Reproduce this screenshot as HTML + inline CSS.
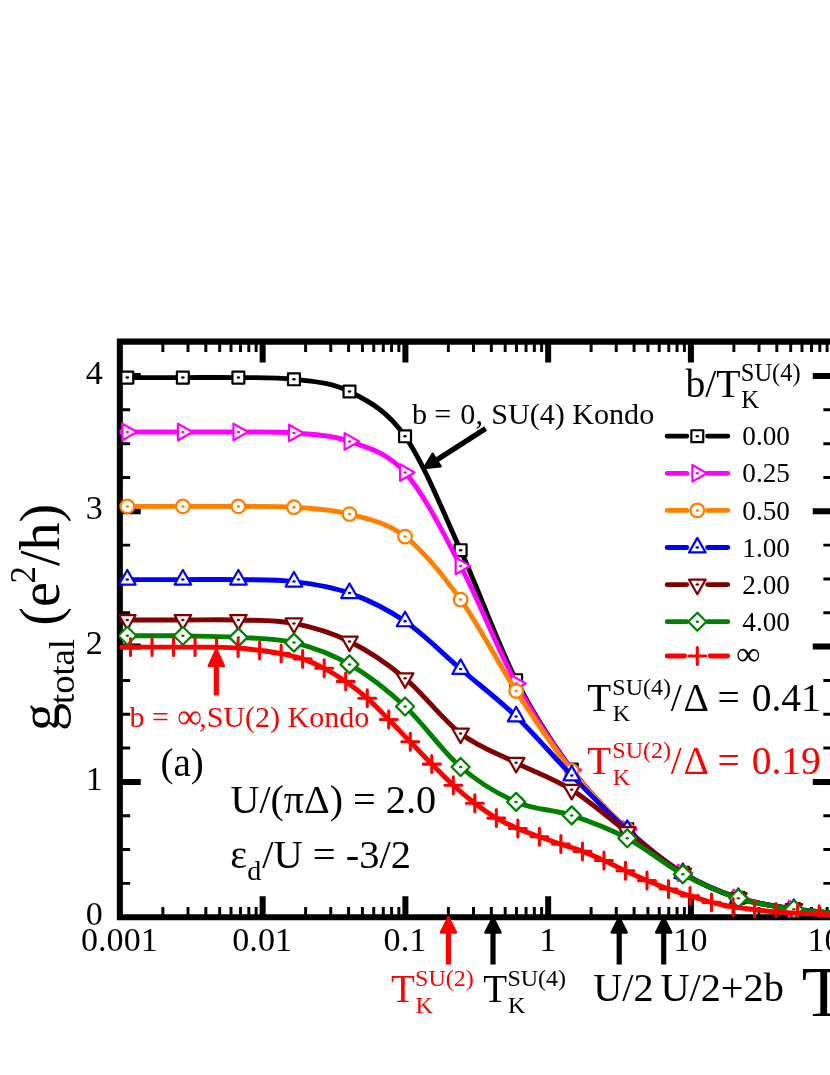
<!DOCTYPE html>
<html><head><meta charset="utf-8"><title>chart</title>
<style>
html,body{margin:0;padding:0;background:#fff;}
body{width:830px;height:1075px;overflow:hidden;}
svg{display:block;font-family:"Liberation Serif",serif;will-change:transform;}
</style></head><body>
<svg width="830" height="1075" viewBox="0 0 830 1075">
<rect width="830" height="1075" fill="#fff"/>
<g stroke="#000" fill="none"><path d="M162.87,341.60 v10.30 M162.87,917.20 v-10.30" stroke-width="2.95"/><path d="M188.01,341.60 v10.30 M188.01,917.20 v-10.30" stroke-width="2.95"/><path d="M205.84,341.60 v10.30 M205.84,917.20 v-10.30" stroke-width="2.95"/><path d="M219.68,341.60 v10.30 M219.68,917.20 v-10.30" stroke-width="2.95"/><path d="M230.98,341.60 v10.30 M230.98,917.20 v-10.30" stroke-width="2.95"/><path d="M240.54,341.60 v10.30 M240.54,917.20 v-10.30" stroke-width="2.95"/><path d="M248.82,341.60 v10.30 M248.82,917.20 v-10.30" stroke-width="2.95"/><path d="M256.12,341.60 v10.30 M256.12,917.20 v-10.30" stroke-width="2.95"/><path d="M262.65,341.60 v20.90 M262.65,917.20 v-20.90" stroke-width="6.00"/><path d="M305.62,341.60 v10.30 M305.62,917.20 v-10.30" stroke-width="2.95"/><path d="M330.76,341.60 v10.30 M330.76,917.20 v-10.30" stroke-width="2.95"/><path d="M348.59,341.60 v10.30 M348.59,917.20 v-10.30" stroke-width="2.95"/><path d="M362.43,341.60 v10.30 M362.43,917.20 v-10.30" stroke-width="2.95"/><path d="M373.73,341.60 v10.30 M373.73,917.20 v-10.30" stroke-width="2.95"/><path d="M383.29,341.60 v10.30 M383.29,917.20 v-10.30" stroke-width="2.95"/><path d="M391.57,341.60 v10.30 M391.57,917.20 v-10.30" stroke-width="2.95"/><path d="M398.87,341.60 v10.30 M398.87,917.20 v-10.30" stroke-width="2.95"/><path d="M405.40,341.60 v20.90 M405.40,917.20 v-20.90" stroke-width="6.00"/><path d="M448.37,341.60 v10.30 M448.37,917.20 v-10.30" stroke-width="2.95"/><path d="M473.51,341.60 v10.30 M473.51,917.20 v-10.30" stroke-width="2.95"/><path d="M491.34,341.60 v10.30 M491.34,917.20 v-10.30" stroke-width="2.95"/><path d="M505.18,341.60 v10.30 M505.18,917.20 v-10.30" stroke-width="2.95"/><path d="M516.48,341.60 v10.30 M516.48,917.20 v-10.30" stroke-width="2.95"/><path d="M526.04,341.60 v10.30 M526.04,917.20 v-10.30" stroke-width="2.95"/><path d="M534.32,341.60 v10.30 M534.32,917.20 v-10.30" stroke-width="2.95"/><path d="M541.62,341.60 v10.30 M541.62,917.20 v-10.30" stroke-width="2.95"/><path d="M548.15,341.60 v20.90 M548.15,917.20 v-20.90" stroke-width="6.00"/><path d="M591.12,341.60 v10.30 M591.12,917.20 v-10.30" stroke-width="2.95"/><path d="M616.26,341.60 v10.30 M616.26,917.20 v-10.30" stroke-width="2.95"/><path d="M634.09,341.60 v10.30 M634.09,917.20 v-10.30" stroke-width="2.95"/><path d="M647.93,341.60 v10.30 M647.93,917.20 v-10.30" stroke-width="2.95"/><path d="M659.23,341.60 v10.30 M659.23,917.20 v-10.30" stroke-width="2.95"/><path d="M668.79,341.60 v10.30 M668.79,917.20 v-10.30" stroke-width="2.95"/><path d="M677.07,341.60 v10.30 M677.07,917.20 v-10.30" stroke-width="2.95"/><path d="M684.37,341.60 v10.30 M684.37,917.20 v-10.30" stroke-width="2.95"/><path d="M690.90,341.60 v20.90 M690.90,917.20 v-20.90" stroke-width="6.00"/><path d="M733.87,341.60 v10.30 M733.87,917.20 v-10.30" stroke-width="2.95"/><path d="M759.01,341.60 v10.30 M759.01,917.20 v-10.30" stroke-width="2.95"/><path d="M776.84,341.60 v10.30 M776.84,917.20 v-10.30" stroke-width="2.95"/><path d="M790.68,341.60 v10.30 M790.68,917.20 v-10.30" stroke-width="2.95"/><path d="M801.98,341.60 v10.30 M801.98,917.20 v-10.30" stroke-width="2.95"/><path d="M811.54,341.60 v10.30 M811.54,917.20 v-10.30" stroke-width="2.95"/><path d="M819.82,341.60 v10.30 M819.82,917.20 v-10.30" stroke-width="2.95"/><path d="M827.12,341.60 v10.30 M827.12,917.20 v-10.30" stroke-width="2.95"/><path d="M833.65,341.60 v20.90 M833.65,917.20 v-20.90" stroke-width="6.00"/><path d="M119.85,883.38 h10.30 M833.65,883.38 h-10.30" stroke-width="2.95"/><path d="M119.85,849.55 h10.30 M833.65,849.55 h-10.30" stroke-width="2.95"/><path d="M119.85,815.73 h10.30 M833.65,815.73 h-10.30" stroke-width="2.95"/><path d="M119.85,781.90 h20.90 M833.65,781.90 h-20.90" stroke-width="6.00"/><path d="M119.85,748.08 h10.30 M833.65,748.08 h-10.30" stroke-width="2.95"/><path d="M119.85,714.25 h10.30 M833.65,714.25 h-10.30" stroke-width="2.95"/><path d="M119.85,680.42 h10.30 M833.65,680.42 h-10.30" stroke-width="2.95"/><path d="M119.85,646.60 h20.90 M833.65,646.60 h-20.90" stroke-width="6.00"/><path d="M119.85,612.78 h10.30 M833.65,612.78 h-10.30" stroke-width="2.95"/><path d="M119.85,578.95 h10.30 M833.65,578.95 h-10.30" stroke-width="2.95"/><path d="M119.85,545.12 h10.30 M833.65,545.12 h-10.30" stroke-width="2.95"/><path d="M119.85,511.30 h20.90 M833.65,511.30 h-20.90" stroke-width="6.00"/><path d="M119.85,477.48 h10.30 M833.65,477.48 h-10.30" stroke-width="2.95"/><path d="M119.85,443.65 h10.30 M833.65,443.65 h-10.30" stroke-width="2.95"/><path d="M119.85,409.82 h10.30 M833.65,409.82 h-10.30" stroke-width="2.95"/><path d="M119.85,376.00 h20.90 M833.65,376.00 h-20.90" stroke-width="6.00"/></g>
<path d="M840.00,341.60 H119.85 V917.20 H840.00" fill="none" stroke="#000" stroke-width="6.05" stroke-linejoin="miter"/>
<defs><clipPath id="pc"><rect x="119.55" y="341.60" width="800" height="576.10"/></clipPath></defs><g clip-path="url(#pc)">
<path d="M119.35,377.60 C120.67,377.60 116.72,377.60 127.30,377.60 C137.88,377.60 164.33,377.60 182.85,377.60 C201.37,377.60 219.88,377.32 238.40,377.60 C256.92,377.88 275.43,376.98 293.95,379.30 C312.47,381.62 330.98,382.00 349.50,391.50 C368.02,401.00 386.53,409.85 405.05,436.30 C423.57,462.75 442.08,509.55 460.60,550.20 C479.12,590.85 497.63,643.65 516.15,680.20 C534.67,716.75 553.18,744.65 571.70,769.50 C590.22,794.35 608.73,812.08 627.25,829.30 C645.77,846.52 664.28,861.37 682.80,872.80 C701.32,884.23 719.83,891.87 738.35,897.90 C756.87,903.93 775.38,906.22 793.90,909.00 C812.42,911.78 840.19,913.67 849.45,914.60" fill="none" stroke="#000000" stroke-width="4.90" stroke-linejoin="round"/>
<rect x="121.35" y="371.65" width="11.90" height="11.90" fill="#fff" stroke="#000000" stroke-width="2.2" stroke-linejoin="round"/><ellipse cx="127.30" cy="377.60" rx="1.75" ry="1.25" fill="#000000"/><rect x="176.90" y="371.65" width="11.90" height="11.90" fill="#fff" stroke="#000000" stroke-width="2.2" stroke-linejoin="round"/><ellipse cx="182.85" cy="377.60" rx="1.75" ry="1.25" fill="#000000"/><rect x="232.45" y="371.65" width="11.90" height="11.90" fill="#fff" stroke="#000000" stroke-width="2.2" stroke-linejoin="round"/><ellipse cx="238.40" cy="377.60" rx="1.75" ry="1.25" fill="#000000"/><rect x="288.00" y="373.35" width="11.90" height="11.90" fill="#fff" stroke="#000000" stroke-width="2.2" stroke-linejoin="round"/><ellipse cx="293.95" cy="379.30" rx="1.75" ry="1.25" fill="#000000"/><rect x="343.55" y="385.55" width="11.90" height="11.90" fill="#fff" stroke="#000000" stroke-width="2.2" stroke-linejoin="round"/><ellipse cx="349.50" cy="391.50" rx="1.75" ry="1.25" fill="#000000"/><rect x="399.10" y="430.35" width="11.90" height="11.90" fill="#fff" stroke="#000000" stroke-width="2.2" stroke-linejoin="round"/><ellipse cx="405.05" cy="436.30" rx="1.75" ry="1.25" fill="#000000"/><rect x="454.65" y="544.25" width="11.90" height="11.90" fill="#fff" stroke="#000000" stroke-width="2.2" stroke-linejoin="round"/><ellipse cx="460.60" cy="550.20" rx="1.75" ry="1.25" fill="#000000"/><rect x="510.20" y="674.25" width="11.90" height="11.90" fill="#fff" stroke="#000000" stroke-width="2.2" stroke-linejoin="round"/><ellipse cx="516.15" cy="680.20" rx="1.75" ry="1.25" fill="#000000"/><rect x="565.75" y="763.55" width="11.90" height="11.90" fill="#fff" stroke="#000000" stroke-width="2.2" stroke-linejoin="round"/><ellipse cx="571.70" cy="769.50" rx="1.75" ry="1.25" fill="#000000"/><rect x="621.30" y="823.35" width="11.90" height="11.90" fill="#fff" stroke="#000000" stroke-width="2.2" stroke-linejoin="round"/><ellipse cx="627.25" cy="829.30" rx="1.75" ry="1.25" fill="#000000"/><rect x="676.85" y="866.85" width="11.90" height="11.90" fill="#fff" stroke="#000000" stroke-width="2.2" stroke-linejoin="round"/><ellipse cx="682.80" cy="872.80" rx="1.75" ry="1.25" fill="#000000"/><rect x="732.40" y="891.95" width="11.90" height="11.90" fill="#fff" stroke="#000000" stroke-width="2.2" stroke-linejoin="round"/><ellipse cx="738.35" cy="897.90" rx="1.75" ry="1.25" fill="#000000"/><rect x="787.95" y="903.05" width="11.90" height="11.90" fill="#fff" stroke="#000000" stroke-width="2.2" stroke-linejoin="round"/><ellipse cx="793.90" cy="909.00" rx="1.75" ry="1.25" fill="#000000"/><rect x="843.50" y="908.65" width="11.90" height="11.90" fill="#fff" stroke="#000000" stroke-width="2.2" stroke-linejoin="round"/><ellipse cx="849.45" cy="914.60" rx="1.75" ry="1.25" fill="#000000"/>
<path d="M119.35,432.00 C120.67,432.00 116.72,432.00 127.30,432.00 C137.88,432.00 164.33,432.00 182.85,432.00 C201.37,432.00 219.88,431.83 238.40,432.00 C256.92,432.17 275.43,431.43 293.95,433.00 C312.47,434.57 330.98,434.82 349.50,441.40 C368.02,447.98 386.53,451.75 405.05,472.50 C423.57,493.25 442.08,530.73 460.60,565.90 C479.12,601.07 497.63,649.48 516.15,683.50 C534.67,717.52 553.18,745.68 571.70,770.00 C590.22,794.32 608.73,812.25 627.25,829.40 C645.77,846.55 664.28,861.48 682.80,872.90 C701.32,884.32 719.83,891.88 738.35,897.90 C756.87,903.92 775.38,906.22 793.90,909.00 C812.42,911.78 840.19,913.67 849.45,914.60" fill="none" stroke="#ff00ff" stroke-width="4.90" stroke-linejoin="round"/>
<polygon points="136.90,432.00 122.35,423.70 122.35,440.30" fill="#fff" stroke="#ff00ff" stroke-width="2.2" stroke-linejoin="round"/><ellipse cx="127.30" cy="432.00" rx="1.75" ry="1.25" fill="#ff00ff"/><polygon points="192.45,432.00 177.90,423.70 177.90,440.30" fill="#fff" stroke="#ff00ff" stroke-width="2.2" stroke-linejoin="round"/><ellipse cx="182.85" cy="432.00" rx="1.75" ry="1.25" fill="#ff00ff"/><polygon points="248.00,432.00 233.45,423.70 233.45,440.30" fill="#fff" stroke="#ff00ff" stroke-width="2.2" stroke-linejoin="round"/><ellipse cx="238.40" cy="432.00" rx="1.75" ry="1.25" fill="#ff00ff"/><polygon points="303.55,433.00 289.00,424.70 289.00,441.30" fill="#fff" stroke="#ff00ff" stroke-width="2.2" stroke-linejoin="round"/><ellipse cx="293.95" cy="433.00" rx="1.75" ry="1.25" fill="#ff00ff"/><polygon points="359.10,441.40 344.55,433.10 344.55,449.70" fill="#fff" stroke="#ff00ff" stroke-width="2.2" stroke-linejoin="round"/><ellipse cx="349.50" cy="441.40" rx="1.75" ry="1.25" fill="#ff00ff"/><polygon points="414.65,472.50 400.10,464.20 400.10,480.80" fill="#fff" stroke="#ff00ff" stroke-width="2.2" stroke-linejoin="round"/><ellipse cx="405.05" cy="472.50" rx="1.75" ry="1.25" fill="#ff00ff"/><polygon points="470.20,565.90 455.65,557.60 455.65,574.20" fill="#fff" stroke="#ff00ff" stroke-width="2.2" stroke-linejoin="round"/><ellipse cx="460.60" cy="565.90" rx="1.75" ry="1.25" fill="#ff00ff"/><polygon points="525.75,683.50 511.20,675.20 511.20,691.80" fill="#fff" stroke="#ff00ff" stroke-width="2.2" stroke-linejoin="round"/><ellipse cx="516.15" cy="683.50" rx="1.75" ry="1.25" fill="#ff00ff"/><polygon points="581.30,770.00 566.75,761.70 566.75,778.30" fill="#fff" stroke="#ff00ff" stroke-width="2.2" stroke-linejoin="round"/><ellipse cx="571.70" cy="770.00" rx="1.75" ry="1.25" fill="#ff00ff"/><polygon points="636.85,829.40 622.30,821.10 622.30,837.70" fill="#fff" stroke="#ff00ff" stroke-width="2.2" stroke-linejoin="round"/><ellipse cx="627.25" cy="829.40" rx="1.75" ry="1.25" fill="#ff00ff"/><polygon points="692.40,872.90 677.85,864.60 677.85,881.20" fill="#fff" stroke="#ff00ff" stroke-width="2.2" stroke-linejoin="round"/><ellipse cx="682.80" cy="872.90" rx="1.75" ry="1.25" fill="#ff00ff"/><polygon points="747.95,897.90 733.40,889.60 733.40,906.20" fill="#fff" stroke="#ff00ff" stroke-width="2.2" stroke-linejoin="round"/><ellipse cx="738.35" cy="897.90" rx="1.75" ry="1.25" fill="#ff00ff"/><polygon points="803.50,909.00 788.95,900.70 788.95,917.30" fill="#fff" stroke="#ff00ff" stroke-width="2.2" stroke-linejoin="round"/><ellipse cx="793.90" cy="909.00" rx="1.75" ry="1.25" fill="#ff00ff"/><polygon points="859.05,914.60 844.50,906.30 844.50,922.90" fill="#fff" stroke="#ff00ff" stroke-width="2.2" stroke-linejoin="round"/><ellipse cx="849.45" cy="914.60" rx="1.75" ry="1.25" fill="#ff00ff"/>
<path d="M119.35,506.40 C120.67,506.40 116.72,506.40 127.30,506.40 C137.88,506.40 164.33,506.40 182.85,506.40 C201.37,506.40 219.88,506.25 238.40,506.40 C256.92,506.55 275.43,506.02 293.95,507.30 C312.47,508.58 330.98,509.22 349.50,514.10 C368.02,518.98 386.53,522.35 405.05,536.60 C423.57,550.85 442.08,573.85 460.60,599.60 C479.12,625.35 497.63,662.53 516.15,691.10 C534.67,719.67 553.18,747.92 571.70,771.00 C590.22,794.08 608.73,812.60 627.25,829.60 C645.77,846.60 664.28,861.62 682.80,873.00 C701.32,884.38 719.83,891.90 738.35,897.90 C756.87,903.90 775.38,906.22 793.90,909.00 C812.42,911.78 840.19,913.67 849.45,914.60" fill="none" stroke="#ff8000" stroke-width="4.90" stroke-linejoin="round"/>
<circle cx="127.30" cy="506.40" r="6.8" fill="#fff" stroke="#ff8000" stroke-width="2.3"/><ellipse cx="127.30" cy="506.40" rx="1.75" ry="1.25" fill="#ff8000"/><circle cx="182.85" cy="506.40" r="6.8" fill="#fff" stroke="#ff8000" stroke-width="2.3"/><ellipse cx="182.85" cy="506.40" rx="1.75" ry="1.25" fill="#ff8000"/><circle cx="238.40" cy="506.40" r="6.8" fill="#fff" stroke="#ff8000" stroke-width="2.3"/><ellipse cx="238.40" cy="506.40" rx="1.75" ry="1.25" fill="#ff8000"/><circle cx="293.95" cy="507.30" r="6.8" fill="#fff" stroke="#ff8000" stroke-width="2.3"/><ellipse cx="293.95" cy="507.30" rx="1.75" ry="1.25" fill="#ff8000"/><circle cx="349.50" cy="514.10" r="6.8" fill="#fff" stroke="#ff8000" stroke-width="2.3"/><ellipse cx="349.50" cy="514.10" rx="1.75" ry="1.25" fill="#ff8000"/><circle cx="405.05" cy="536.60" r="6.8" fill="#fff" stroke="#ff8000" stroke-width="2.3"/><ellipse cx="405.05" cy="536.60" rx="1.75" ry="1.25" fill="#ff8000"/><circle cx="460.60" cy="599.60" r="6.8" fill="#fff" stroke="#ff8000" stroke-width="2.3"/><ellipse cx="460.60" cy="599.60" rx="1.75" ry="1.25" fill="#ff8000"/><circle cx="516.15" cy="691.10" r="6.8" fill="#fff" stroke="#ff8000" stroke-width="2.3"/><ellipse cx="516.15" cy="691.10" rx="1.75" ry="1.25" fill="#ff8000"/><circle cx="571.70" cy="771.00" r="6.8" fill="#fff" stroke="#ff8000" stroke-width="2.3"/><ellipse cx="571.70" cy="771.00" rx="1.75" ry="1.25" fill="#ff8000"/><circle cx="627.25" cy="829.60" r="6.8" fill="#fff" stroke="#ff8000" stroke-width="2.3"/><ellipse cx="627.25" cy="829.60" rx="1.75" ry="1.25" fill="#ff8000"/><circle cx="682.80" cy="873.00" r="6.8" fill="#fff" stroke="#ff8000" stroke-width="2.3"/><ellipse cx="682.80" cy="873.00" rx="1.75" ry="1.25" fill="#ff8000"/><circle cx="738.35" cy="897.90" r="6.8" fill="#fff" stroke="#ff8000" stroke-width="2.3"/><ellipse cx="738.35" cy="897.90" rx="1.75" ry="1.25" fill="#ff8000"/><circle cx="793.90" cy="909.00" r="6.8" fill="#fff" stroke="#ff8000" stroke-width="2.3"/><ellipse cx="793.90" cy="909.00" rx="1.75" ry="1.25" fill="#ff8000"/><circle cx="849.45" cy="914.60" r="6.8" fill="#fff" stroke="#ff8000" stroke-width="2.3"/><ellipse cx="849.45" cy="914.60" rx="1.75" ry="1.25" fill="#ff8000"/>
<path d="M119.35,579.60 C120.67,579.60 116.72,579.60 127.30,579.60 C137.88,579.60 164.33,579.60 182.85,579.60 C201.37,579.60 219.88,579.27 238.40,579.60 C256.92,579.93 275.43,579.35 293.95,581.60 C312.47,583.85 330.98,586.48 349.50,593.10 C368.02,599.72 386.53,608.65 405.05,621.30 C423.57,633.95 442.08,653.15 460.60,669.00 C479.12,684.85 497.63,698.67 516.15,716.40 C534.67,734.13 553.18,756.47 571.70,775.40 C590.22,794.33 608.73,813.72 627.25,830.00 C645.77,846.28 664.28,861.77 682.80,873.10 C701.32,884.43 719.83,892.02 738.35,898.00 C756.87,903.98 775.38,906.23 793.90,909.00 C812.42,911.77 840.19,913.67 849.45,914.60" fill="none" stroke="#0000ff" stroke-width="4.90" stroke-linejoin="round"/>
<polygon points="127.30,570.00 119.00,584.55 135.60,584.55" fill="#fff" stroke="#0000ff" stroke-width="2.2" stroke-linejoin="round"/><ellipse cx="127.30" cy="579.60" rx="1.75" ry="1.25" fill="#0000ff"/><polygon points="182.85,570.00 174.55,584.55 191.15,584.55" fill="#fff" stroke="#0000ff" stroke-width="2.2" stroke-linejoin="round"/><ellipse cx="182.85" cy="579.60" rx="1.75" ry="1.25" fill="#0000ff"/><polygon points="238.40,570.00 230.10,584.55 246.70,584.55" fill="#fff" stroke="#0000ff" stroke-width="2.2" stroke-linejoin="round"/><ellipse cx="238.40" cy="579.60" rx="1.75" ry="1.25" fill="#0000ff"/><polygon points="293.95,572.00 285.65,586.55 302.25,586.55" fill="#fff" stroke="#0000ff" stroke-width="2.2" stroke-linejoin="round"/><ellipse cx="293.95" cy="581.60" rx="1.75" ry="1.25" fill="#0000ff"/><polygon points="349.50,583.50 341.20,598.05 357.80,598.05" fill="#fff" stroke="#0000ff" stroke-width="2.2" stroke-linejoin="round"/><ellipse cx="349.50" cy="593.10" rx="1.75" ry="1.25" fill="#0000ff"/><polygon points="405.05,611.70 396.75,626.25 413.35,626.25" fill="#fff" stroke="#0000ff" stroke-width="2.2" stroke-linejoin="round"/><ellipse cx="405.05" cy="621.30" rx="1.75" ry="1.25" fill="#0000ff"/><polygon points="460.60,659.40 452.30,673.95 468.90,673.95" fill="#fff" stroke="#0000ff" stroke-width="2.2" stroke-linejoin="round"/><ellipse cx="460.60" cy="669.00" rx="1.75" ry="1.25" fill="#0000ff"/><polygon points="516.15,706.80 507.85,721.35 524.45,721.35" fill="#fff" stroke="#0000ff" stroke-width="2.2" stroke-linejoin="round"/><ellipse cx="516.15" cy="716.40" rx="1.75" ry="1.25" fill="#0000ff"/><polygon points="571.70,765.80 563.40,780.35 580.00,780.35" fill="#fff" stroke="#0000ff" stroke-width="2.2" stroke-linejoin="round"/><ellipse cx="571.70" cy="775.40" rx="1.75" ry="1.25" fill="#0000ff"/><polygon points="627.25,820.40 618.95,834.95 635.55,834.95" fill="#fff" stroke="#0000ff" stroke-width="2.2" stroke-linejoin="round"/><ellipse cx="627.25" cy="830.00" rx="1.75" ry="1.25" fill="#0000ff"/><polygon points="682.80,863.50 674.50,878.05 691.10,878.05" fill="#fff" stroke="#0000ff" stroke-width="2.2" stroke-linejoin="round"/><ellipse cx="682.80" cy="873.10" rx="1.75" ry="1.25" fill="#0000ff"/><polygon points="738.35,888.40 730.05,902.95 746.65,902.95" fill="#fff" stroke="#0000ff" stroke-width="2.2" stroke-linejoin="round"/><ellipse cx="738.35" cy="898.00" rx="1.75" ry="1.25" fill="#0000ff"/><polygon points="793.90,899.40 785.60,913.95 802.20,913.95" fill="#fff" stroke="#0000ff" stroke-width="2.2" stroke-linejoin="round"/><ellipse cx="793.90" cy="909.00" rx="1.75" ry="1.25" fill="#0000ff"/><polygon points="849.45,905.00 841.15,919.55 857.75,919.55" fill="#fff" stroke="#0000ff" stroke-width="2.2" stroke-linejoin="round"/><ellipse cx="849.45" cy="914.60" rx="1.75" ry="1.25" fill="#0000ff"/>
<path d="M119.35,620.00 C120.67,620.00 116.72,620.00 127.30,620.00 C137.88,620.00 164.33,620.00 182.85,620.00 C201.37,620.00 219.88,619.43 238.40,620.00 C256.92,620.57 275.43,619.82 293.95,623.40 C312.47,626.98 330.98,632.35 349.50,641.50 C368.02,650.65 386.53,662.97 405.05,678.30 C423.57,693.63 442.08,719.42 460.60,733.50 C479.12,747.58 497.63,753.42 516.15,762.80 C534.67,772.18 553.18,778.27 571.70,789.80 C590.22,801.33 608.73,818.05 627.25,832.00 C645.77,845.95 664.28,862.48 682.80,873.50 C701.32,884.52 719.83,892.17 738.35,898.10 C756.87,904.03 775.38,906.35 793.90,909.10 C812.42,911.85 840.19,913.68 849.45,914.60" fill="none" stroke="#800000" stroke-width="4.90" stroke-linejoin="round"/>
<polygon points="127.30,629.60 119.00,615.05 135.60,615.05" fill="#fff" stroke="#800000" stroke-width="2.2" stroke-linejoin="round"/><ellipse cx="127.30" cy="620.00" rx="1.75" ry="1.25" fill="#800000"/><polygon points="182.85,629.60 174.55,615.05 191.15,615.05" fill="#fff" stroke="#800000" stroke-width="2.2" stroke-linejoin="round"/><ellipse cx="182.85" cy="620.00" rx="1.75" ry="1.25" fill="#800000"/><polygon points="238.40,629.60 230.10,615.05 246.70,615.05" fill="#fff" stroke="#800000" stroke-width="2.2" stroke-linejoin="round"/><ellipse cx="238.40" cy="620.00" rx="1.75" ry="1.25" fill="#800000"/><polygon points="293.95,633.00 285.65,618.45 302.25,618.45" fill="#fff" stroke="#800000" stroke-width="2.2" stroke-linejoin="round"/><ellipse cx="293.95" cy="623.40" rx="1.75" ry="1.25" fill="#800000"/><polygon points="349.50,651.10 341.20,636.55 357.80,636.55" fill="#fff" stroke="#800000" stroke-width="2.2" stroke-linejoin="round"/><ellipse cx="349.50" cy="641.50" rx="1.75" ry="1.25" fill="#800000"/><polygon points="405.05,687.90 396.75,673.35 413.35,673.35" fill="#fff" stroke="#800000" stroke-width="2.2" stroke-linejoin="round"/><ellipse cx="405.05" cy="678.30" rx="1.75" ry="1.25" fill="#800000"/><polygon points="460.60,743.10 452.30,728.55 468.90,728.55" fill="#fff" stroke="#800000" stroke-width="2.2" stroke-linejoin="round"/><ellipse cx="460.60" cy="733.50" rx="1.75" ry="1.25" fill="#800000"/><polygon points="516.15,772.40 507.85,757.85 524.45,757.85" fill="#fff" stroke="#800000" stroke-width="2.2" stroke-linejoin="round"/><ellipse cx="516.15" cy="762.80" rx="1.75" ry="1.25" fill="#800000"/><polygon points="571.70,799.40 563.40,784.85 580.00,784.85" fill="#fff" stroke="#800000" stroke-width="2.2" stroke-linejoin="round"/><ellipse cx="571.70" cy="789.80" rx="1.75" ry="1.25" fill="#800000"/><polygon points="627.25,841.60 618.95,827.05 635.55,827.05" fill="#fff" stroke="#800000" stroke-width="2.2" stroke-linejoin="round"/><ellipse cx="627.25" cy="832.00" rx="1.75" ry="1.25" fill="#800000"/><polygon points="682.80,883.10 674.50,868.55 691.10,868.55" fill="#fff" stroke="#800000" stroke-width="2.2" stroke-linejoin="round"/><ellipse cx="682.80" cy="873.50" rx="1.75" ry="1.25" fill="#800000"/><polygon points="738.35,907.70 730.05,893.15 746.65,893.15" fill="#fff" stroke="#800000" stroke-width="2.2" stroke-linejoin="round"/><ellipse cx="738.35" cy="898.10" rx="1.75" ry="1.25" fill="#800000"/><polygon points="793.90,918.70 785.60,904.15 802.20,904.15" fill="#fff" stroke="#800000" stroke-width="2.2" stroke-linejoin="round"/><ellipse cx="793.90" cy="909.10" rx="1.75" ry="1.25" fill="#800000"/><polygon points="849.45,924.20 841.15,909.65 857.75,909.65" fill="#fff" stroke="#800000" stroke-width="2.2" stroke-linejoin="round"/><ellipse cx="849.45" cy="914.60" rx="1.75" ry="1.25" fill="#800000"/>
<path d="M119.35,635.80 C120.67,635.80 116.72,635.80 127.30,635.80 C137.88,635.80 164.33,635.53 182.85,635.80 C201.37,636.07 219.88,636.27 238.40,637.40 C256.92,638.53 275.43,638.10 293.95,642.60 C312.47,647.10 330.98,653.75 349.50,664.40 C368.02,675.05 386.53,689.40 405.05,706.50 C423.57,723.60 442.08,751.10 460.60,767.00 C479.12,782.90 497.63,793.83 516.15,801.90 C534.67,809.97 553.18,809.33 571.70,815.40 C590.22,821.47 608.73,828.50 627.25,838.30 C645.77,848.10 664.28,864.20 682.80,874.20 C701.32,884.20 719.83,892.47 738.35,898.30 C756.87,904.13 775.38,906.47 793.90,909.20 C812.42,911.93 840.19,913.78 849.45,914.70" fill="none" stroke="#008000" stroke-width="4.90" stroke-linejoin="round"/>
<polygon points="118.30,635.80 127.30,626.80 136.30,635.80 127.30,644.80" fill="#fff" stroke="#008000" stroke-width="2.2" stroke-linejoin="round"/><ellipse cx="127.30" cy="635.80" rx="1.75" ry="1.25" fill="#008000"/><polygon points="173.85,635.80 182.85,626.80 191.85,635.80 182.85,644.80" fill="#fff" stroke="#008000" stroke-width="2.2" stroke-linejoin="round"/><ellipse cx="182.85" cy="635.80" rx="1.75" ry="1.25" fill="#008000"/><polygon points="229.40,637.40 238.40,628.40 247.40,637.40 238.40,646.40" fill="#fff" stroke="#008000" stroke-width="2.2" stroke-linejoin="round"/><ellipse cx="238.40" cy="637.40" rx="1.75" ry="1.25" fill="#008000"/><polygon points="284.95,642.60 293.95,633.60 302.95,642.60 293.95,651.60" fill="#fff" stroke="#008000" stroke-width="2.2" stroke-linejoin="round"/><ellipse cx="293.95" cy="642.60" rx="1.75" ry="1.25" fill="#008000"/><polygon points="340.50,664.40 349.50,655.40 358.50,664.40 349.50,673.40" fill="#fff" stroke="#008000" stroke-width="2.2" stroke-linejoin="round"/><ellipse cx="349.50" cy="664.40" rx="1.75" ry="1.25" fill="#008000"/><polygon points="396.05,706.50 405.05,697.50 414.05,706.50 405.05,715.50" fill="#fff" stroke="#008000" stroke-width="2.2" stroke-linejoin="round"/><ellipse cx="405.05" cy="706.50" rx="1.75" ry="1.25" fill="#008000"/><polygon points="451.60,767.00 460.60,758.00 469.60,767.00 460.60,776.00" fill="#fff" stroke="#008000" stroke-width="2.2" stroke-linejoin="round"/><ellipse cx="460.60" cy="767.00" rx="1.75" ry="1.25" fill="#008000"/><polygon points="507.15,801.90 516.15,792.90 525.15,801.90 516.15,810.90" fill="#fff" stroke="#008000" stroke-width="2.2" stroke-linejoin="round"/><ellipse cx="516.15" cy="801.90" rx="1.75" ry="1.25" fill="#008000"/><polygon points="562.70,815.40 571.70,806.40 580.70,815.40 571.70,824.40" fill="#fff" stroke="#008000" stroke-width="2.2" stroke-linejoin="round"/><ellipse cx="571.70" cy="815.40" rx="1.75" ry="1.25" fill="#008000"/><polygon points="618.25,838.30 627.25,829.30 636.25,838.30 627.25,847.30" fill="#fff" stroke="#008000" stroke-width="2.2" stroke-linejoin="round"/><ellipse cx="627.25" cy="838.30" rx="1.75" ry="1.25" fill="#008000"/><polygon points="673.80,874.20 682.80,865.20 691.80,874.20 682.80,883.20" fill="#fff" stroke="#008000" stroke-width="2.2" stroke-linejoin="round"/><ellipse cx="682.80" cy="874.20" rx="1.75" ry="1.25" fill="#008000"/><polygon points="729.35,898.30 738.35,889.30 747.35,898.30 738.35,907.30" fill="#fff" stroke="#008000" stroke-width="2.2" stroke-linejoin="round"/><ellipse cx="738.35" cy="898.30" rx="1.75" ry="1.25" fill="#008000"/><polygon points="784.90,909.20 793.90,900.20 802.90,909.20 793.90,918.20" fill="#fff" stroke="#008000" stroke-width="2.2" stroke-linejoin="round"/><ellipse cx="793.90" cy="909.20" rx="1.75" ry="1.25" fill="#008000"/><polygon points="840.45,914.70 849.45,905.70 858.45,914.70 849.45,923.70" fill="#fff" stroke="#008000" stroke-width="2.2" stroke-linejoin="round"/><ellipse cx="849.45" cy="914.70" rx="1.75" ry="1.25" fill="#008000"/>
<path d="M119.35,647.10 C121.21,647.10 125.05,647.10 130.50,647.10 C135.94,647.10 144.85,647.10 152.02,647.10 C159.19,647.10 166.37,647.10 173.54,647.10 C180.71,647.10 187.89,647.07 195.06,647.10 C202.23,647.13 209.41,647.15 216.58,647.30 C223.75,647.45 230.93,647.48 238.10,648.00 C245.27,648.52 252.45,649.47 259.62,650.40 C266.79,651.33 273.97,652.18 281.14,653.60 C288.31,655.02 295.49,656.45 302.66,658.90 C309.83,661.35 317.01,664.55 324.18,668.30 C331.35,672.05 338.53,676.42 345.70,681.40 C352.87,686.38 360.05,691.85 367.22,698.20 C374.39,704.55 381.57,712.23 388.74,719.50 C395.91,726.77 403.09,734.37 410.26,741.80 C417.43,749.23 424.61,756.87 431.78,764.10 C438.95,771.33 446.13,778.67 453.30,785.20 C460.47,791.73 467.65,797.82 474.82,803.30 C481.99,808.78 489.17,813.90 496.34,818.10 C503.51,822.30 510.69,825.38 517.86,828.50 C525.03,831.62 532.21,834.20 539.38,836.80 C546.55,839.40 553.73,841.67 560.90,844.10 C568.07,846.53 575.25,848.67 582.42,851.40 C589.59,854.13 596.77,857.27 603.94,860.50 C611.11,863.73 618.29,867.45 625.46,870.80 C632.63,874.15 639.81,877.57 646.98,880.60 C654.15,883.63 661.33,886.45 668.50,889.00 C675.67,891.55 682.85,893.67 690.02,895.90 C697.19,898.13 704.37,900.57 711.54,902.40 C718.71,904.23 725.89,905.70 733.06,906.90 C740.23,908.10 747.41,908.77 754.58,909.60 C761.75,910.43 768.93,911.30 776.10,911.90 C783.27,912.50 790.45,912.80 797.62,913.20 C804.79,913.60 811.97,914.00 819.14,914.30 C826.31,914.60 837.07,914.88 840.66,915.00" fill="none" stroke="#ff0000" stroke-width="4.90" stroke-linejoin="round"/>
<path d="M122.05,647.10 H138.95 M130.50,638.65 V655.55" stroke="#ff0000" stroke-width="3.1" stroke-linecap="round" fill="none"/><path d="M143.57,647.10 H160.47 M152.02,638.65 V655.55" stroke="#ff0000" stroke-width="3.1" stroke-linecap="round" fill="none"/><path d="M165.09,647.10 H181.99 M173.54,638.65 V655.55" stroke="#ff0000" stroke-width="3.1" stroke-linecap="round" fill="none"/><path d="M186.61,647.10 H203.51 M195.06,638.65 V655.55" stroke="#ff0000" stroke-width="3.1" stroke-linecap="round" fill="none"/><path d="M208.13,647.30 H225.03 M216.58,638.85 V655.75" stroke="#ff0000" stroke-width="3.1" stroke-linecap="round" fill="none"/><path d="M229.65,648.00 H246.55 M238.10,639.55 V656.45" stroke="#ff0000" stroke-width="3.1" stroke-linecap="round" fill="none"/><path d="M251.17,650.40 H268.07 M259.62,641.95 V658.85" stroke="#ff0000" stroke-width="3.1" stroke-linecap="round" fill="none"/><path d="M272.69,653.60 H289.59 M281.14,645.15 V662.05" stroke="#ff0000" stroke-width="3.1" stroke-linecap="round" fill="none"/><path d="M294.21,658.90 H311.11 M302.66,650.45 V667.35" stroke="#ff0000" stroke-width="3.1" stroke-linecap="round" fill="none"/><path d="M315.73,668.30 H332.63 M324.18,659.85 V676.75" stroke="#ff0000" stroke-width="3.1" stroke-linecap="round" fill="none"/><path d="M337.25,681.40 H354.15 M345.70,672.95 V689.85" stroke="#ff0000" stroke-width="3.1" stroke-linecap="round" fill="none"/><path d="M358.77,698.20 H375.67 M367.22,689.75 V706.65" stroke="#ff0000" stroke-width="3.1" stroke-linecap="round" fill="none"/><path d="M380.29,719.50 H397.19 M388.74,711.05 V727.95" stroke="#ff0000" stroke-width="3.1" stroke-linecap="round" fill="none"/><path d="M401.81,741.80 H418.71 M410.26,733.35 V750.25" stroke="#ff0000" stroke-width="3.1" stroke-linecap="round" fill="none"/><path d="M423.33,764.10 H440.23 M431.78,755.65 V772.55" stroke="#ff0000" stroke-width="3.1" stroke-linecap="round" fill="none"/><path d="M444.85,785.20 H461.75 M453.30,776.75 V793.65" stroke="#ff0000" stroke-width="3.1" stroke-linecap="round" fill="none"/><path d="M466.37,803.30 H483.27 M474.82,794.85 V811.75" stroke="#ff0000" stroke-width="3.1" stroke-linecap="round" fill="none"/><path d="M487.89,818.10 H504.79 M496.34,809.65 V826.55" stroke="#ff0000" stroke-width="3.1" stroke-linecap="round" fill="none"/><path d="M509.41,828.50 H526.31 M517.86,820.05 V836.95" stroke="#ff0000" stroke-width="3.1" stroke-linecap="round" fill="none"/><path d="M530.93,836.80 H547.83 M539.38,828.35 V845.25" stroke="#ff0000" stroke-width="3.1" stroke-linecap="round" fill="none"/><path d="M552.45,844.10 H569.35 M560.90,835.65 V852.55" stroke="#ff0000" stroke-width="3.1" stroke-linecap="round" fill="none"/><path d="M573.97,851.40 H590.87 M582.42,842.95 V859.85" stroke="#ff0000" stroke-width="3.1" stroke-linecap="round" fill="none"/><path d="M595.49,860.50 H612.39 M603.94,852.05 V868.95" stroke="#ff0000" stroke-width="3.1" stroke-linecap="round" fill="none"/><path d="M617.01,870.80 H633.91 M625.46,862.35 V879.25" stroke="#ff0000" stroke-width="3.1" stroke-linecap="round" fill="none"/><path d="M638.53,880.60 H655.43 M646.98,872.15 V889.05" stroke="#ff0000" stroke-width="3.1" stroke-linecap="round" fill="none"/><path d="M660.05,889.00 H676.95 M668.50,880.55 V897.45" stroke="#ff0000" stroke-width="3.1" stroke-linecap="round" fill="none"/><path d="M681.57,895.90 H698.47 M690.02,887.45 V904.35" stroke="#ff0000" stroke-width="3.1" stroke-linecap="round" fill="none"/><path d="M703.09,902.40 H719.99 M711.54,893.95 V910.85" stroke="#ff0000" stroke-width="3.1" stroke-linecap="round" fill="none"/><path d="M724.61,906.90 H741.51 M733.06,898.45 V915.35" stroke="#ff0000" stroke-width="3.1" stroke-linecap="round" fill="none"/><path d="M746.13,909.60 H763.03 M754.58,901.15 V918.05" stroke="#ff0000" stroke-width="3.1" stroke-linecap="round" fill="none"/><path d="M767.65,911.90 H784.55 M776.10,903.45 V920.35" stroke="#ff0000" stroke-width="3.1" stroke-linecap="round" fill="none"/><path d="M789.17,913.20 H806.07 M797.62,904.75 V921.65" stroke="#ff0000" stroke-width="3.1" stroke-linecap="round" fill="none"/><path d="M810.69,914.30 H827.59 M819.14,905.85 V922.75" stroke="#ff0000" stroke-width="3.1" stroke-linecap="round" fill="none"/><path d="M832.21,915.00 H849.11 M840.66,906.55 V923.45" stroke="#ff0000" stroke-width="3.1" stroke-linecap="round" fill="none"/>
</g>
<text x="102.80" y="924.80" font-size="34.10" fill="#000" text-anchor="end">0</text>
<text x="102.80" y="789.50" font-size="34.10" fill="#000" text-anchor="end">1</text>
<text x="102.80" y="654.20" font-size="34.10" fill="#000" text-anchor="end">2</text>
<text x="102.80" y="518.90" font-size="34.10" fill="#000" text-anchor="end">3</text>
<text x="102.80" y="383.60" font-size="34.10" fill="#000" text-anchor="end">4</text>
<text x="119.40" y="950.60" font-size="34.10" fill="#000" text-anchor="middle">0.001</text>
<text x="262.15" y="950.60" font-size="34.10" fill="#000" text-anchor="middle">0.01</text>
<text x="404.90" y="950.60" font-size="34.10" fill="#000" text-anchor="middle">0.1</text>
<text x="547.65" y="950.60" font-size="34.10" fill="#000" text-anchor="middle">1</text>
<text x="690.40" y="950.60" font-size="34.10" fill="#000" text-anchor="middle">10</text>
<text x="833.15" y="950.60" font-size="34.10" fill="#000" text-anchor="middle">100</text>
<g transform="translate(59.2,731) rotate(-90)">
<text x="0.00" y="0.00" font-size="56.00" fill="#000">g</text>
<text x="27.00" y="14.30" font-size="36.60" fill="#000">total</text>
<text x="105.30" y="0.00" font-size="56.00" fill="#000">(e</text>
<text x="147.50" y="-24.00" font-size="35.00" fill="#000">2</text>
<text x="165.00" y="0.00" font-size="56.00" fill="#000">/h)</text>
</g>
<text x="685.50" y="396.80" font-size="39.70" fill="#000">b/T</text>
<text x="740.80" y="381.00" font-size="24.50" fill="#000">SU(4)</text>
<text x="741.20" y="408.20" font-size="24.80" fill="#000">K</text>
<path d="M667.1,436.20 H686.8 M707.6,436.20 H727.8" stroke="#000000" stroke-width="4.8" stroke-linecap="round" fill="none"/>
<rect x="691.35" y="430.25" width="11.90" height="11.90" fill="#fff" stroke="#000000" stroke-width="2.2" stroke-linejoin="round"/><ellipse cx="697.30" cy="436.20" rx="1.75" ry="1.25" fill="#000000"/>
<text x="742.30" y="445.30" font-size="27.20" fill="#000">0.00</text>
<path d="M667.1,473.30 H686.8 M707.6,473.30 H727.8" stroke="#ff00ff" stroke-width="4.8" stroke-linecap="round" fill="none"/>
<polygon points="706.90,473.30 692.35,465.00 692.35,481.60" fill="#fff" stroke="#ff00ff" stroke-width="2.2" stroke-linejoin="round"/><ellipse cx="697.30" cy="473.30" rx="1.75" ry="1.25" fill="#ff00ff"/>
<text x="742.30" y="482.40" font-size="27.20" fill="#000">0.25</text>
<path d="M667.1,510.40 H686.8 M707.6,510.40 H727.8" stroke="#ff8000" stroke-width="4.8" stroke-linecap="round" fill="none"/>
<circle cx="697.30" cy="510.40" r="6.8" fill="#fff" stroke="#ff8000" stroke-width="2.3"/><ellipse cx="697.30" cy="510.40" rx="1.75" ry="1.25" fill="#ff8000"/>
<text x="742.30" y="519.50" font-size="27.20" fill="#000">0.50</text>
<path d="M667.1,547.50 H686.8 M707.6,547.50 H727.8" stroke="#0000ff" stroke-width="4.8" stroke-linecap="round" fill="none"/>
<polygon points="697.30,537.90 689.00,552.45 705.60,552.45" fill="#fff" stroke="#0000ff" stroke-width="2.2" stroke-linejoin="round"/><ellipse cx="697.30" cy="547.50" rx="1.75" ry="1.25" fill="#0000ff"/>
<text x="742.30" y="556.60" font-size="27.20" fill="#000">1.00</text>
<path d="M667.1,584.60 H686.8 M707.6,584.60 H727.8" stroke="#800000" stroke-width="4.8" stroke-linecap="round" fill="none"/>
<polygon points="697.30,594.20 689.00,579.65 705.60,579.65" fill="#fff" stroke="#800000" stroke-width="2.2" stroke-linejoin="round"/><ellipse cx="697.30" cy="584.60" rx="1.75" ry="1.25" fill="#800000"/>
<text x="742.30" y="593.70" font-size="27.20" fill="#000">2.00</text>
<path d="M667.1,621.70 H686.8 M707.6,621.70 H727.8" stroke="#008000" stroke-width="4.8" stroke-linecap="round" fill="none"/>
<polygon points="688.30,621.70 697.30,612.70 706.30,621.70 697.30,630.70" fill="#fff" stroke="#008000" stroke-width="2.2" stroke-linejoin="round"/><ellipse cx="697.30" cy="621.70" rx="1.75" ry="1.25" fill="#008000"/>
<text x="742.30" y="630.80" font-size="27.20" fill="#000">4.00</text>
<path d="M667.1,656.00 H684.6 M710.1,656.00 H727.8" stroke="#ff0000" stroke-width="4.8" stroke-linecap="round" fill="none"/>
<path d="M688.85,656.00 H705.75 M697.30,647.55 V664.45" stroke="#ff0000" stroke-width="3.1" stroke-linecap="round" fill="none"/>
<text x="736.30" y="665.00" font-size="34.00" fill="#000">∞</text>
<text x="412.10" y="423.60" font-size="30.20" fill="#000">b</text>
<text x="434.30" y="423.60" font-size="30.20" fill="#000">=</text>
<text x="460.30" y="423.60" font-size="30.20" fill="#000">0,</text>
<text x="491.20" y="423.60" font-size="30.10" fill="#000">SU(4) Kondo</text>
<text x="129.50" y="727.30" font-size="30.00" fill="#ff0000">b =</text>
<text x="177.30" y="728.00" font-size="35.00" fill="#ff0000">∞</text>
<text x="199.20" y="727.30" font-size="30.00" fill="#ff0000">,SU(2) Kondo</text>
<text x="160.50" y="775.50" font-size="39.00" fill="#000">(a)</text>
<text x="230.50" y="812.90" font-size="40.00" fill="#000">U/(πΔ)</text>
<text x="353.00" y="812.90" font-size="40.30" fill="#000">= 2.0</text>
<text x="230.30" y="868.30" font-size="40.00" fill="#000">ε</text>
<text x="247.30" y="880.40" font-size="28.00" fill="#000">d</text>
<text x="262.20" y="868.30" font-size="40.50" fill="#000">/U = -3/2</text>
<text x="587.20" y="710.80" font-size="39.00" fill="#000">T</text>
<text x="612.30" y="694.50" font-size="24.00" fill="#000">SU(4)</text>
<text x="612.80" y="721.20" font-size="24.00" fill="#000">K</text>
<text x="670.70" y="710.80" font-size="39.50" fill="#000">/</text>
<text x="683.60" y="710.80" font-size="39.50" fill="#000">Δ</text>
<text x="717.60" y="710.80" font-size="39.50" fill="#000">=</text>
<text x="751.70" y="710.80" font-size="39.50" fill="#000">0.41</text>
<text x="587.20" y="774.30" font-size="39.00" fill="#ff0000">T</text>
<text x="612.30" y="758.00" font-size="24.00" fill="#ff0000">SU(2)</text>
<text x="612.80" y="784.70" font-size="24.00" fill="#ff0000">K</text>
<text x="670.70" y="774.30" font-size="39.50" fill="#ff0000">/</text>
<text x="683.60" y="774.30" font-size="39.50" fill="#ff0000">Δ</text>
<text x="717.60" y="774.30" font-size="39.50" fill="#ff0000">=</text>
<text x="751.70" y="774.30" font-size="39.50" fill="#ff0000">0.19</text>
<path d="M485.70,428.50 L435.90,460.44" stroke="#000" stroke-width="5.30" fill="none"/><polygon points="423.95,468.11 432.59,453.61 440.73,466.31" fill="#000" stroke="#000" stroke-width="2.20" stroke-linejoin="round"/>
<path d="M216.30,695.50 L216.30,665.00" stroke="#ff0000" stroke-width="5.20" fill="none"/><polygon points="216.30,649.20 223.99,665.90 208.61,665.90" fill="#ff0000" stroke="#ff0000" stroke-width="2.20" stroke-linejoin="round"/>
<path d="M448.40,964.50 L448.40,931.70" stroke="#ff0000" stroke-width="5.20" fill="none"/><polygon points="448.40,917.20 456.09,932.60 440.71,932.60" fill="#ff0000" stroke="#ff0000" stroke-width="2.20" stroke-linejoin="round"/>
<path d="M493.00,964.50 L493.00,931.70" stroke="#000" stroke-width="5.20" fill="none"/><polygon points="493.00,917.20 500.69,932.60 485.31,932.60" fill="#000" stroke="#000" stroke-width="2.20" stroke-linejoin="round"/>
<path d="M619.20,964.50 L619.20,931.70" stroke="#000" stroke-width="5.20" fill="none"/><polygon points="619.20,917.20 626.89,932.60 611.51,932.60" fill="#000" stroke="#000" stroke-width="2.20" stroke-linejoin="round"/>
<path d="M663.70,964.50 L663.70,931.70" stroke="#000" stroke-width="5.20" fill="none"/><polygon points="663.70,917.20 671.39,932.60 656.01,932.60" fill="#000" stroke="#000" stroke-width="2.20" stroke-linejoin="round"/>
<text x="390.90" y="1002.30" font-size="39.00" fill="#ff0000">T</text>
<text x="415.10" y="985.90" font-size="24.00" fill="#ff0000">SU(2)</text>
<text x="415.60" y="1012.90" font-size="24.00" fill="#ff0000">K</text>
<text x="483.20" y="1002.30" font-size="39.00" fill="#000">T</text>
<text x="507.40" y="985.90" font-size="24.00" fill="#000">SU(4)</text>
<text x="507.90" y="1012.90" font-size="24.00" fill="#000">K</text>
<text x="593.20" y="1001.10" font-size="40.20" fill="#000">U/2</text>
<text x="660.40" y="1001.10" font-size="40.30" fill="#000">U/2+2b</text>
<text x="801.80" y="1015.70" font-size="72.00" fill="#000">T</text>
</svg>
</body></html>
